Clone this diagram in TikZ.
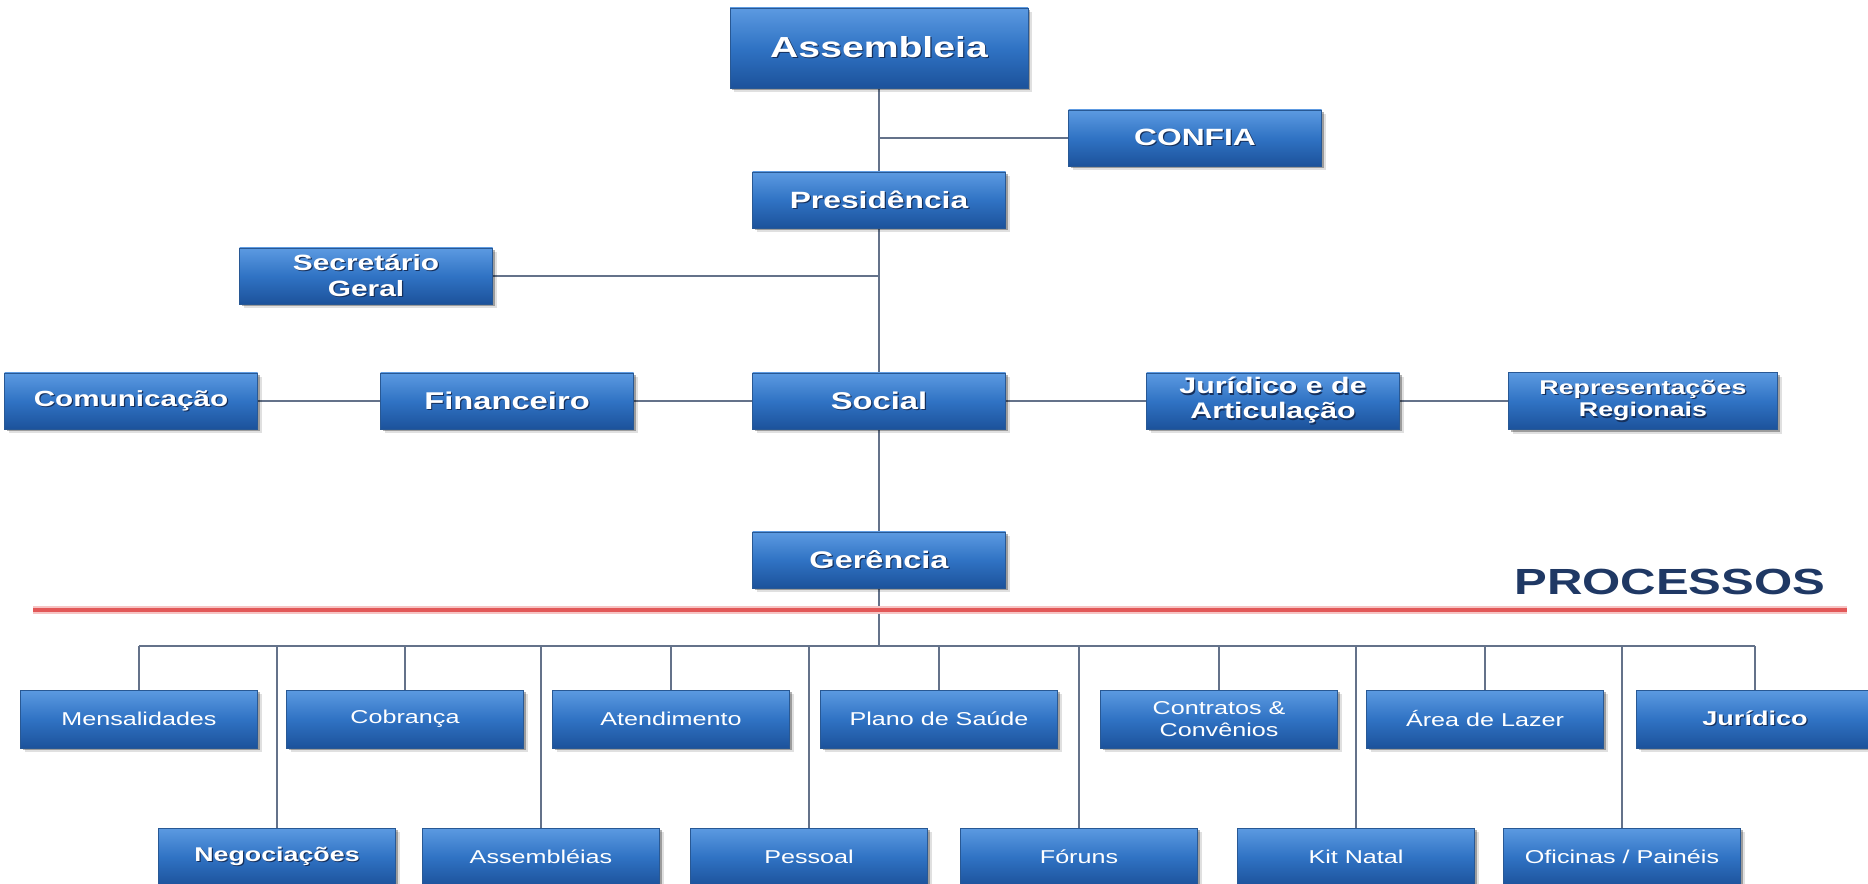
\documentclass[tikz,border=0pt]{standalone}
\usepackage{fontspec}
\setmainfont{Liberation Sans}
\newfontfamily\boxf[FakeStretch=1.35]{Liberation Sans}
\usetikzlibrary{shadows}
\definecolor{boxtop}{RGB}{92,154,225}
\definecolor{boxmid}{RGB}{48,115,196}
\definecolor{boxbot}{RGB}{28,82,155}
\definecolor{boxedge}{RGB}{40,88,148}
\definecolor{conn}{RGB}{100,114,138}
\definecolor{redl}{RGB}{226,88,88}
\definecolor{redhalo}{RGB}{246,196,196}
\definecolor{navy}{RGB}{31,56,100}
\definecolor{tshade}{RGB}{22,48,92}
\newcommand\tsh[1]{\leavevmode\rlap{\kern0.7pt\raisebox{-0.7pt}{\textcolor{tshade}{#1}}}#1}
\pgfdeclarelayer{bgzero}
\pgfdeclarelayer{background}
\pgfsetlayers{bgzero,background,main}
\def\px{0.02cm}
\begin{document}
\begin{tikzpicture}[x=0.02cm,y=-0.02cm,
  box/.style={rectangle, draw=boxedge, line width=0.4pt,
    top color=boxtop, bottom color=boxbot, middle color=boxmid,
    text=white, align=center, inner sep=0pt,
    drop shadow={shadow xshift=2.4pt, shadow yshift=-2.4pt, opacity=0.12, fill=black},
    drop shadow={shadow xshift=1.2pt, shadow yshift=-1.2pt, opacity=0.3, fill=black}},
  mainbox/.style={box, minimum width=253*\px, minimum height=56*\px},
  procbox/.style={box, minimum width=237*\px, minimum height=58*\px},
  tb/.style 2 args={font=\boxf\bfseries\fontsize{#1}{#2}\selectfont},
  tr/.style 2 args={font=\boxf\fontsize{#1}{#2}\selectfont},
  conn/.style={draw=conn, line width=0.9pt}
]
\useasboundingbox (0,0) rectangle (1868,884);
\begin{pgfonlayer}{bgzero}
\fill[white] (0,0) rectangle (1868,884);
\end{pgfonlayer}
\clip (0,0) rectangle (1868,884);

% upper hierarchy
\node[box, minimum width=298*\px, minimum height=80*\px, tb={16.5pt}{19pt}] (asm) at (879,48) {\tsh{Assembleia}};
\node[mainbox, tb={13.4pt}{16pt}] (confia) at (1195,138) {\tsh{CONFIA}};
\node[mainbox, tb={13.4pt}{16pt}] (pres) at (879,200) {\tsh{Presidência}};
\node[mainbox, tb={12.6pt}{15.1pt}] (sec) at (366,276) {\tsh{Secretário}\\\tsh{Geral}};
\node[mainbox, tb={12.5pt}{15pt}] (com) at (131,401) {\tsh{Comunicação}};
\node[mainbox, tb={13.8pt}{16pt}] (fin) at (507,401) {\tsh{Financeiro}};
\node[mainbox, tb={13.8pt}{16pt}] (soc) at (879,401) {\tsh{Social}};
\node[mainbox, tb={12.8pt}{14.2pt}] (jur) at (1273,401) {\tsh{Jurídico e de}\\\tsh{Articulação}};
\node[box, minimum width=269*\px, minimum height=57*\px, tb={11.3pt}{13pt}] (rep) at (1643,401) {\tsh{Representações}\\\tsh{Regionais}};
\node[mainbox, tb={13.7pt}{16pt}] (ger) at (879,560) {\tsh{Gerência}};

% processes label and red rule
\node[anchor=base west, inner sep=0pt, text=navy, font=\boxf\bfseries\fontsize{20.7pt}{24pt}\selectfont] (proc) at (1514,594) {PROCESSOS};
\draw[redhalo, line width=4.5pt] (33,610) -- (1847,610);
\draw[redl, line width=1.8pt] (33,610) -- (1847,610);

% process row 1
\node[procbox, tr={10.6pt}{12.7pt}] (p1) at (139,719) {Mensalidades};
\node[procbox, tr={10.6pt}{12.7pt}] (p2) at (405,719) {Cobrança};
\node[procbox, tr={10.6pt}{12.7pt}] (p3) at (671,719) {Atendimento};
\node[procbox, tr={10.6pt}{12.7pt}] (p4) at (939,719) {Plano de Saúde};
\node[procbox, tr={10.6pt}{12.7pt}] (p5) at (1219,719) {Contratos \&\\Convênios};
\node[procbox, tr={10.6pt}{12.7pt}] (p6) at (1485,719) {Área de Lazer};
\node[procbox, tb={11.4pt}{13pt}] (p7) at (1755,719) {\tsh{Jurídico}};

% process row 2
\node[procbox, tb={11.3pt}{13pt}] (q1) at (277,857) {\tsh{Negociações}};
\node[procbox, tr={10.6pt}{12.7pt}] (q2) at (541,857) {Assembléias};
\node[procbox, tr={10.6pt}{12.7pt}] (q3) at (809,857) {Pessoal};
\node[procbox, tr={10.6pt}{12.7pt}] (q4) at (1079,857) {Fóruns};
\node[procbox, tr={10.6pt}{12.7pt}] (q5) at (1356,857) {Kit Natal};
\node[procbox, tr={10.6pt}{12.7pt}] (q6) at (1622,857) {Oficinas / Painéis};

\coordinate (bus) at (879,646);

\begin{pgfonlayer}{background}
\draw[conn] (asm.south) -- (pres.north);
\draw[conn] (confia.west) -- (confia.west -| asm.south);
\draw[conn] (pres.south) -- (soc.north);
\draw[conn] (sec.east) -- (sec.east -| pres.south);
\draw[conn] (com.east) -- (fin.west);
\draw[conn] (fin.east) -- (soc.west);
\draw[conn] (soc.east) -- (jur.west);
\draw[conn] (jur.east) -- (rep.west);
\draw[conn] (soc.south) -- (ger.north);
\draw[conn] (ger.south) -- (bus);
\draw[conn] (p1.north |- bus) -- (p7.north |- bus);
\foreach \n in {p1,p2,p3,p4,p5,p6,p7,q1,q2,q3,q4,q5,q6}
  \draw[conn] (\n.north) -- (\n.north |- bus);
\end{pgfonlayer}
\end{tikzpicture}
\end{document}
